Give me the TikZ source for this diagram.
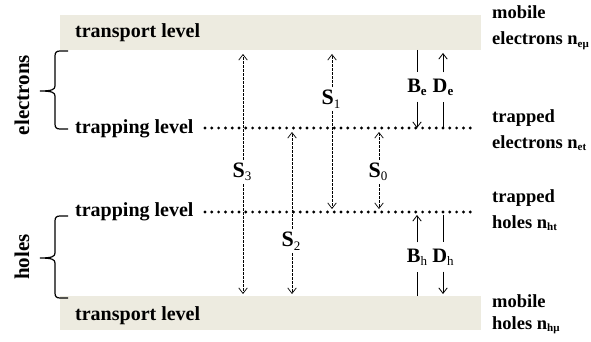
\documentclass[tikz,border=0pt]{standalone}
\usepackage{fontspec}
\setmainfont{Liberation Serif}
\usetikzlibrary{arrows.meta}
\definecolor{bandcol}{RGB}{237,235,224}
\newcommand\lowsub[2][13]{\raisebox{-0.35ex}{\fontsize{#1}{#1}\selectfont #2}}
\begin{document}
\begin{tikzpicture}[x=1pt,y=-1pt,
  band/.style={fill=bandcol, draw=none},
  lvltext/.style={font=\fontsize{20}{24}\selectfont\bfseries, anchor=base west, inner sep=0pt},
  side/.style={font=\fontsize{18.5}{22}\selectfont\bfseries, anchor=base west, inner sep=0pt},
  rot/.style={font=\fontsize{21}{24}\selectfont\bfseries, rotate=90, inner sep=0pt},
  trap/.style={line width=3.2pt, line cap=round, dash pattern=on 0pt off 6.8pt},
  sarr/.style={dash pattern=on 2.5pt off 1.5pt, line width=0.7pt, -{Straight Barb[length=5.5pt,width=8.5pt]}},
  barr/.style={line width=0.8pt, -{Straight Barb[length=5.5pt,width=8.5pt]}},
  pline/.style={line width=0.8pt},
  slab/.style={font=\fontsize{22}{26}\selectfont\bfseries, inner xsep=0pt, inner ysep=3pt},
  blab/.style={font=\fontsize{20.5}{24}\selectfont\bfseries, inner xsep=0pt, inner ysep=6pt},
  bracepath/.style={line width=1.2pt}
]
\useasboundingbox (0,0) rectangle (591,342);

% bands
\path[band] (60,15) rectangle (481,50);
\path[band] (60,296) rectangle (481,330);
\node[lvltext] (tlt) at (75,38) {transport level};
\node[lvltext] (tlb) at (75,320) {transport level};

% trapping levels
\node[lvltext] (trpe) at (75,133) {trapping level};
\node[lvltext] (trph) at (75,216) {trapping level};
\coordinate (te1) at (205,128); \coordinate (te2) at (475,128);
\coordinate (th1) at (205,212); \coordinate (th2) at (475,212);
\draw[trap] (te1) -- (te2);
\draw[trap] (th1) -- (th2);

% braces and side texts
\draw[bracepath] (68,51) -- (60,51) .. controls (56.5,51) and (55,52.5) .. (55,56) -- (55,86)
  .. controls (55,89.5) and (52,91) .. (40,91) .. controls (52,91) and (55,92.5) .. (55,96)
  -- (55,124) .. controls (55,127.5) and (56.5,129) .. (60,129) -- (68,129);
\draw[bracepath] (68,216) -- (60,216) .. controls (56.5,216) and (55,217.5) .. (55,221) -- (55,253)
  .. controls (55,256.5) and (52,258) .. (40,258) .. controls (52,258) and (55,259.5) .. (55,263)
  -- (55,293) .. controls (55,296.5) and (56.5,298) .. (60,298) -- (68,298);
\node[rot] (elec) at (22,95) {electrons};
\node[rot] (hol) at (22,257) {holes};

% right labels
\node[side] (r1a) at (492,19) {mobile};
\node[side] (r1b) at (492,45) {electrons n\lowsub[11]{eμ}};
\node[side] (r2a) at (492,122) {trapped};
\node[side] (r2b) at (492,148) {electrons n\lowsub[11]{et}};
\node[side] (r3a) at (492,202) {trapped};
\node[side] (r3b) at (492,228) {holes n\lowsub[11]{ht}};
\node[side] (r4a) at (492,307) {mobile};
\node[side] (r4b) at (492,329) {holes n\lowsub[11]{hμ}};

% S transitions
\coordinate (s3t) at (243,54); \coordinate (s3b) at (243,294);
\node[slab] (s3) at (242,172) {S\lowsub{\mdseries 3}};
\draw[sarr] (s3t |- s3.north) -- (s3t);
\draw[sarr] (s3t |- s3.south) -- (s3b);

\coordinate (s1t) at (332,54); \coordinate (s1b) at (332,209);
\node[slab] (s1) at (331,99) {S\lowsub{\mdseries 1}};
\draw[sarr] (s1t |- s1.north) -- (s1t);
\draw[sarr] (s1t |- s1.south) -- (s1b);

\coordinate (s2t) at (292,132); \coordinate (s2b) at (292,294);
\node[slab] (s2) at (291,241) {S\lowsub{\mdseries 2}};
\draw[sarr] (s2t |- s2.north) -- (s2t);
\draw[sarr] (s2t |- s2.south) -- (s2b);

\coordinate (s0t) at (379,132); \coordinate (s0b) at (379,209);
\node[slab] (s0) at (378,172) {S\lowsub{\mdseries 0}};
\draw[sarr] (s0t |- s0.north) -- (s0t);
\draw[sarr] (s0t |- s0.south) -- (s0b);

% B and D transitions, electrons
\coordinate (bet) at (417,50); \coordinate (beb) at (417,128);
\node[blab] (be) at (417,87) {B\lowsub{e}};
\draw[pline] (bet) -- (bet |- be.north);
\draw[barr] (bet |- be.south) -- (beb);
\coordinate (det) at (443,53); \coordinate (deb) at (443,128);
\node[blab] (de) at (443,87) {D\lowsub{e}};
\draw[pline] (deb) -- (deb |- de.south);
\draw[barr] (deb |- de.north) -- (det);

% B and D transitions, holes
\coordinate (bht) at (417,215); \coordinate (bhb) at (417,296);
\node[blab] (bh) at (417,257) {B\lowsub{\mdseries h}};
\draw[pline] (bhb) -- (bhb |- bh.south);
\draw[barr] (bhb |- bh.north) -- (bht);
\coordinate (dht) at (443,215); \coordinate (dhb) at (443,294);
\node[blab] (dh) at (443,257) {D\lowsub{\mdseries h}};
\draw[pline] (dht) -- (dht |- dh.north);
\draw[barr] (dht |- dh.south) -- (dhb);
\end{tikzpicture}
\end{document}
